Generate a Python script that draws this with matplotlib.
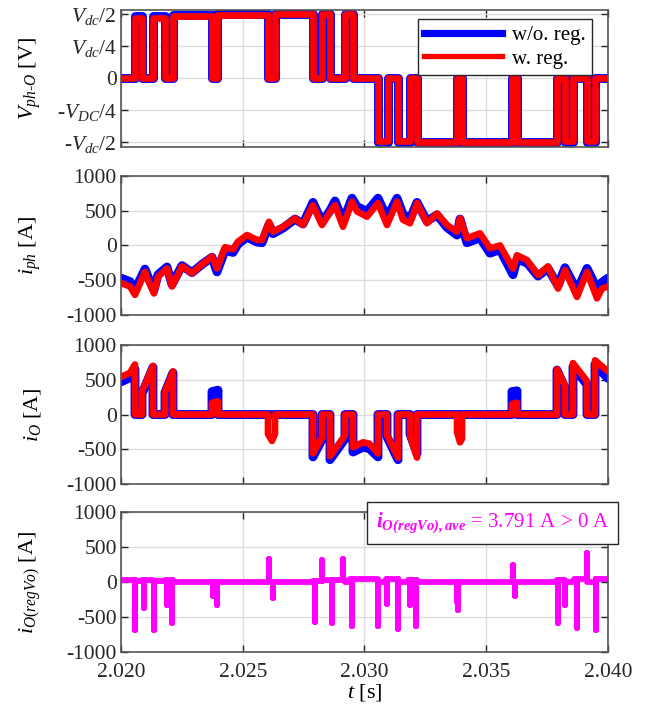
import numpy as np
import matplotlib
matplotlib.use("Agg")
import matplotlib.pyplot as plt
from matplotlib.lines import Line2D

plt.rcParams['font.family'] = 'Liberation Serif'
plt.rcParams['mathtext.fontset'] = 'custom'
plt.rcParams['mathtext.rm'] = 'Liberation Serif'
plt.rcParams['mathtext.it'] = 'Liberation Serif:italic'
plt.rcParams['mathtext.bf'] = 'Liberation Serif:bold'
plt.rcParams['mathtext.bfit'] = 'Liberation Serif:bold:italic'
plt.rcParams['axes.unicode_minus'] = False

T0 = 2.020

# --- V_ph-O : switching edges (ms after 2.020 s) and levels (x Vdc) ---
v_edges_ms = [0.0, 0.575, 0.862, 1.314, 1.807, 2.136, 3.737, 3.943, 6.037, 6.324,
              7.885, 8.255, 8.583, 9.199, 9.528, 10.554, 10.965, 11.376, 11.869, 12.156,
              13.799, 14.004, 16.057, 16.263, 17.906, 18.234, 18.563, 19.138, 19.466, 20.0]
v_red_lvl = [0, 0.47, 0, 0.47, 0, 0.48, 0, 0.49, 0, 0.5,
             0, 0.5, 0, 0.5, 0, -0.49, 0, -0.49, 0, -0.5,
             0, -0.5, 0, -0.5, 0, -0.49, 0, -0.49, 0, 0]
v_blue_lvl = [0, 0.48, 0, 0.48, 0, 0.49, 0, 0.5, 0, 0.5,
              0, 0.5, 0, 0.5, 0, -0.5, 0, -0.5, 0, -0.5,
              0, -0.5, 0, -0.5, 0, -0.5, 0, -0.5, 0, 0]

# --- i_ph ---
iph_ms = [0, 0.370, 0.575, 0.986, 1.109, 1.355, 1.520, 1.889, 2.094, 2.505,
          2.916, 3.368, 3.737, 3.943, 4.271, 4.600, 4.805, 5.175, 5.585, 5.791,
          6.078, 6.242, 6.653, 7.146, 7.474, 7.885, 8.255, 8.583, 8.789, 9.117,
          9.487, 9.692, 10.103, 10.554, 10.924, 11.335, 11.581, 11.869, 12.156, 12.567,
          12.977, 13.388, 13.799, 13.922, 14.209, 14.743, 15.154, 15.565, 16.099, 16.263,
          16.674, 17.125, 17.536, 17.947, 18.234, 18.727, 19.138, 19.548, 19.754, 20.0]
iph_red = [-540, -590, -710, -380, -500, -690, -450, -330, -590, -300,
           -400, -260, -160, -330, -25, -55, 55, 150, 80, 80,
           340, 200, 270, 390, 295, 580, 295, 480, 580, 270,
           630, 490, 415, 610, 295, 630, 370, 320, 610, 320,
           460, 295, 200, 390, 105, 175, -40, 0, -330, -140,
           -210, -425, -300, -620, -355, -740, -380, -760, -620, -590]
iph_blue = [-470, -520, -640, -340, -450, -640, -420, -310, -560, -290,
            -390, -260, -170, -380, -70, -100, 20, 120, 50, 40,
            300, 170, 250, 380, 310, 620, 340, 500, 640, 350,
            680, 560, 490, 680, 400, 680, 450, 380, 620, 350,
            440, 260, 150, 380, 40, 110, -110, -60, -420, -200,
            -250, -440, -330, -580, -320, -650, -330, -620, -530, -470]

# --- i_O ---
io_red_ms = [0, 0.37, 0.575, 0.575, 0.862, 0.862, 1.314, 1.314, 1.807, 1.807, 2.136, 2.136,
             3.737, 3.737, 3.984, 3.984, 6.037, 6.037, 6.20, 6.324, 6.324,
             7.885, 7.885, 8.255, 8.255, 8.583, 8.583, 9.199, 9.199,
             9.528, 9.528, 9.94, 10.2, 10.554, 10.554, 10.924, 10.924, 11.376, 11.376,
             11.869, 11.869, 12.156, 12.156, 13.799, 13.799, 13.922, 14.004, 14.004,
             16.057, 16.057, 16.263, 16.263, 17.906, 17.906, 18.234, 18.234,
             18.563, 18.563, 19.138, 19.138, 19.466, 19.466, 20.0]
io_red = [540, 600, 720, 0, 0, 330, 700, 0, 0, 330, 620, 0,
          0, 170, 190, 0, 0, -280, -380, -280, 0,
          0, -560, -330, 0, 0, -600, -300, 0,
          0, -470, -400, -420, -560, 0, 0, -300, -620, 0,
          0, -300, -620, 0, 0, -250, -400, -350, 0,
          0, 150, 170, 0, 0, 650, 420, 0,
          0, 740, 480, 0, 0, 780, 620]
io_blue_ms = [0, 0.37, 0.575, 0.575, 0.862, 0.862, 1.314, 1.314, 1.807, 1.807, 2.136, 2.136,
              3.737, 3.737, 3.984, 3.984,
              7.885, 7.885, 8.255, 8.255, 8.583, 8.583, 9.199, 9.199,
              9.528, 9.528, 9.94, 10.2, 10.554, 10.554, 10.924, 10.924, 11.376, 11.376,
              11.869, 11.869, 12.156, 12.156,
              16.057, 16.057, 16.263, 16.263, 17.906, 17.906, 18.234, 18.234,
              18.563, 18.563, 19.138, 19.138, 19.466, 19.466, 20.0]
io_blue = [470, 530, 650, 0, 0, 300, 680, 0, 0, 320, 600, 0,
           0, 330, 350, 0,
           0, -610, -360, 0, 0, -650, -350, 0,
           0, -540, -470, -490, -610, 0, 0, -320, -650, 0,
           0, -280, -560, 0,
           0, 330, 340, 0, 0, 640, 380, 0,
           0, 690, 430, 0, 0, 720, 520]

# --- i_O(regVo) ---
reg_base_edges_ms = [0, 0.58, 0.86, 1.31, 1.81, 2.14, 7.89, 8.26, 8.58, 9.2, 9.4,
                     10.55, 10.9, 11.38, 11.8, 12.16, 17.9, 18.23, 18.6, 19.14, 19.5, 20.0]
reg_base_lvl = [25, 10, 30, 10, 30, 0, 10, 30, 35, 0, 40,
                0, 40, 0, 35, 0, 25, 0, 40, 0, 45]
reg_spike_ms = [0.575, 0.945, 1.355, 1.889, 2.094, 3.778, 3.943, 6.078, 6.242, 7.967,
                8.255, 8.665, 9.117, 9.487, 10.554, 10.924, 11.376, 11.869, 12.115, 13.80,
                13.84, 16.099, 16.181, 17.947, 18.234, 18.727, 19.138, 19.507]
reg_spike_val = [-690, -370, -680, -330, -590, -200, -330, 325, -230, -570,
                 320, -580, 325, -630, -630, -320, -670, -330, -630, -280,
                 -400, 245, -200, -590, -330, -660, 410, -690]


def to_s(ms):
    return T0 + np.asarray(ms) * 1e-3


fig = plt.figure(figsize=(6.59, 7.04), dpi=100)
L, W = 0.1836, 0.739
ax1 = fig.add_axes([L, 0.7912, W, 0.1946])
ax2 = fig.add_axes([L, 0.5526, W, 0.1974])
ax3 = fig.add_axes([L, 0.3125, W, 0.1974])
ax4 = fig.add_axes([L, 0.0739, W, 0.1989])

BLUE, RED, MAG = '#0000ff', '#ff0000', '#ff00ff'
lw_b, lw_r = 6.4, 4.8
kw = dict(solid_capstyle='round', solid_joinstyle='round')

# panel 1
tv = to_s(v_edges_ms)
ax1.plot(tv, v_blue_lvl, drawstyle='steps-post', color=BLUE, lw=lw_b, **kw)
ax1.plot(tv, v_red_lvl, drawstyle='steps-post', color=RED, lw=lw_r, **kw)
ax1.set_ylim(-0.54, 0.53)
ax1.set_yticks([-0.5, -0.25, 0, 0.25, 0.5])
ax1.set_yticklabels([r'-$V_{dc}$/2', r'-$V_{DC}$/4', '0', r'$V_{dc}$/4', r'$V_{dc}$/2'])
ax1.set_ylabel(r'$V_{ph\text{-}O}$ [V]')
leg = ax1.legend([Line2D([], [], color=BLUE, lw=5.2), Line2D([], [], color=RED, lw=3.8)],
                 ['w/o. reg.', 'w. reg.'], loc='upper right',
                 bbox_to_anchor=(0.967, 0.934), borderaxespad=0, fancybox=False,
                 framealpha=1, edgecolor='#262626', handlelength=3.7,
                 handletextpad=0.5, borderpad=0.3, labelspacing=0.2, fontsize=15)
leg.get_frame().set_linewidth(1.0)

# panel 2
ti = to_s(iph_ms)
ax2.plot(ti, iph_blue, color=BLUE, lw=lw_b, **kw)
ax2.plot(ti, iph_red, color=RED, lw=lw_r, **kw)
ax2.set_ylabel(r'$i_{ph}$ [A]')

# panel 3
ax3.plot(to_s(io_blue_ms), io_blue, color=BLUE, lw=lw_b, **kw)
ax3.plot(to_s(io_red_ms), io_red, color=RED, lw=lw_r, **kw)
ax3.set_ylabel(r'$i_{O}$ [A]')

# panel 4
reg_t, reg_y = [], []
for k in range(len(reg_base_lvl)):
    a, b, lvl = reg_base_edges_ms[k], reg_base_edges_ms[k + 1], reg_base_lvl[k]
    reg_t.append(a)
    reg_y.append(lvl)
    for ts, sv in zip(reg_spike_ms, reg_spike_val):
        if a <= ts < b:
            reg_t += [ts, ts, ts]
            reg_y += [lvl, sv, lvl]
    reg_t.append(b)
    reg_y.append(lvl)
ax4.plot(to_s(reg_t), reg_y, color=MAG, lw=4.2, **kw)
ax4.set_ylabel(r'$i_{O(regVo)}$ [A]')
ax4.set_xlabel(r'$t$ [s]', labelpad=0)

cur_ticks = [-1000, -500, 0, 500, 1000]
for ax in (ax2, ax3, ax4):
    ax.set_ylim(-1000, 1000)
    ax.set_yticks(cur_ticks)
    ax.set_yticklabels([str(v) for v in cur_ticks])

xt = [2.020, 2.025, 2.030, 2.035, 2.040]
for ax in (ax1, ax2, ax3, ax4):
    ax.set_xlim(2.020, 2.040)
    ax.set_xticks(xt)
    if ax is ax4:
        ax.set_xticklabels(['%.3f' % v for v in xt])
    else:
        ax.set_xticklabels([])
    ax.grid(True, color='#dcdcdc', lw=1.0)
    ax.set_axisbelow(True)
    ax.tick_params(direction='in', length=5, width=1, top=True, right=True,
                   colors='#262626', labelsize=15.5, pad=3)
    ax.tick_params(axis='x', pad=8)
    for sp in ax.spines.values():
        sp.set_color('#555555')
        sp.set_linewidth(1.2)
    ax.yaxis.label.set_size(16)
    ax.yaxis.set_label_coords(-0.16, 0.5)
ax4.xaxis.label.set_size(16)

fig.text(0.748, 0.257,
         r'$\mathbfit{i}_{\mathbfit{O(regVo),ave}}$ = 3.791 A > 0 A',
         color=MAG, fontsize=15, ha='center', va='center',
         bbox=dict(boxstyle='square,pad=0.42', fc='white', ec='#262626', lw=1.0))

fig.savefig('out.png', dpi=100)
